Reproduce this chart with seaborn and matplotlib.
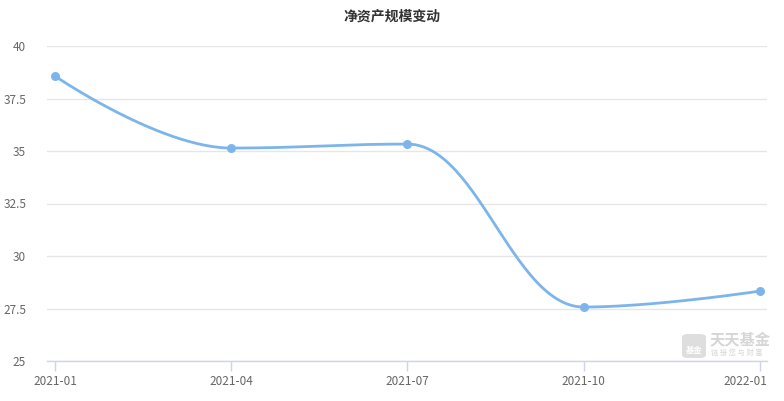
import numpy as np
import pandas as pd
import matplotlib
matplotlib.use("Agg")
import matplotlib.pyplot as plt
from matplotlib.patches import FancyBboxPatch
from matplotlib.transforms import ScaledTranslation
import seaborn as sns

# ---- data ----
categories = ["2021-01", "2021-04", "2021-07", "2021-10", "2022-01"]
net_assets = [38.57, 35.14, 35.33, 27.57, 28.33]
y_ticks = [25, 27.5, 30, 32.5, 35, 37.5, 40]
y_tick_labels = ["25", "27.5", "30", "32.5", "35", "37.5", "40"]
title = "净资产规模变动"

sns.set_theme(style="white")
plt.rcParams['font.family'] = ['Noto Sans CJK SC', 'DejaVu Sans']

LINE = "#7cb5ec"


def spline_path(xs, ys, smoothing=1.5, n=60):
    """Highcharts-style spline through points."""
    N = len(xs)
    lc = [None] * N
    rc = [None] * N
    denom = smoothing + 1
    for i in range(1, N - 1):
        px, py = xs[i], ys[i]
        lx, ly = xs[i - 1], ys[i - 1]
        nx, ny = xs[i + 1], ys[i + 1]
        lcx = (smoothing * px + lx) / denom
        lcy = (smoothing * py + ly) / denom
        rcx = (smoothing * px + nx) / denom
        rcy = (smoothing * py + ny) / denom
        corr = 0
        if rcx != lcx:
            corr = (rcy - lcy) * (rcx - px) / (rcx - lcx) + py - rcy
        lcy += corr
        rcy += corr
        if lcy > ly and lcy > py:
            lcy = max(ly, py); rcy = 2 * py - lcy
        elif lcy < ly and lcy < py:
            lcy = min(ly, py); rcy = 2 * py - lcy
        if rcy > ny and rcy > py:
            rcy = max(ny, py); lcy = 2 * py - rcy
        elif rcy < ny and rcy < py:
            rcy = min(ny, py); lcy = 2 * py - rcy
        lc[i] = (lcx, lcy)
        rc[i] = (rcx, rcy)
    X, Y = [], []
    t = np.linspace(0, 1, n)
    for i in range(1, N):
        p0 = np.array([xs[i - 1], ys[i - 1]])
        p3 = np.array([xs[i], ys[i]])
        p1 = np.array(rc[i - 1]) if rc[i - 1] is not None else p0
        p2 = np.array(lc[i]) if lc[i] is not None else p3
        b = ((1 - t) ** 3)[:, None] * p0 + (3 * (1 - t) ** 2 * t)[:, None] * p1 \
            + (3 * (1 - t) * t ** 2)[:, None] * p2 + (t ** 3)[:, None] * p3
        X.extend(b[:, 0]); Y.extend(b[:, 1])
    return np.array(X), np.array(Y)


xs = np.arange(len(categories), dtype=float)
sx, sy = spline_path(xs, net_assets)
curve = pd.DataFrame({"x": sx, "y": sy})
pts = pd.DataFrame({"x": xs, "y": net_assets})

fig = plt.figure(figsize=(7.84, 4.01), dpi=100)
ax = fig.add_axes([47 / 784, 40 / 401, 720 / 784, 315 / 401])

sns.lineplot(data=curve, x="x", y="y", ax=ax, color=LINE, linewidth=2, sort=False, zorder=3)
sns.scatterplot(data=pts, x="x", y="y", ax=ax, color=LINE, s=42, edgecolor=LINE, linewidth=0, zorder=4)

ax.set_xlim(-0.045, 4.04)
ax.set_ylim(25, 40)
ax.set_yticks(y_ticks)
ax.set_yticklabels(y_tick_labels)
ax.set_xticks(xs)
ax.set_xticklabels(categories)
ax.set_xlabel("")
ax.set_ylabel("")

ax.grid(axis="y", color="#e6e6e6", linewidth=1)
ax.grid(axis="x", visible=False)
for s in ["top", "right", "left"]:
    ax.spines[s].set_visible(False)
ax.spines["bottom"].set_color("#ccd6eb")
ax.spines["bottom"].set_linewidth(1)
ax.tick_params(axis="x", bottom=True, length=7, width=1, color="#ccd6eb",
               labelsize=8.5, labelcolor="#666666", pad=3)
ax.tick_params(axis="y", left=False, labelsize=8.5, labelcolor="#666666", pad=9)
ax.set_axisbelow(True)

# last x label kept inside the plot like the reference
last = ax.get_xticklabels()[-1]
last.set_horizontalalignment("right")
last.set_transform(last.get_transform() + ScaledTranslation(7 / 100, 0, fig.dpi_scale_trans))

fig.text(0.5, 1 - 17 / 401, title, ha="center", va="center", fontsize=10,
         color="#333333", fontweight="bold")

# watermark
W, H = 784, 401
box = FancyBboxPatch((682 / W, 1 - 358 / H), 24 / W, 24 / H,
                     boxstyle="round,pad=0,rounding_size=0.008",
                     transform=fig.transFigure, fc="#dedede", ec="none", zorder=5)
fig.patches.append(box)
fig.text(694 / W, 1 - 350 / H, "基金", ha="center", va="center", fontsize=6,
         color="white", fontweight="bold", zorder=6)
fig.text(710 / W, 1 - 340 / H, "天天基金", ha="left", va="center", fontsize=11,
         color="#d6d6d6", fontweight="bold")
fig.text(711 / W, 1 - 353 / H, "链 接 您 与 财 富", ha="left", va="center", fontsize=5.2,
         color="#d6d6d6")

fig.savefig("out.png", dpi=100)
